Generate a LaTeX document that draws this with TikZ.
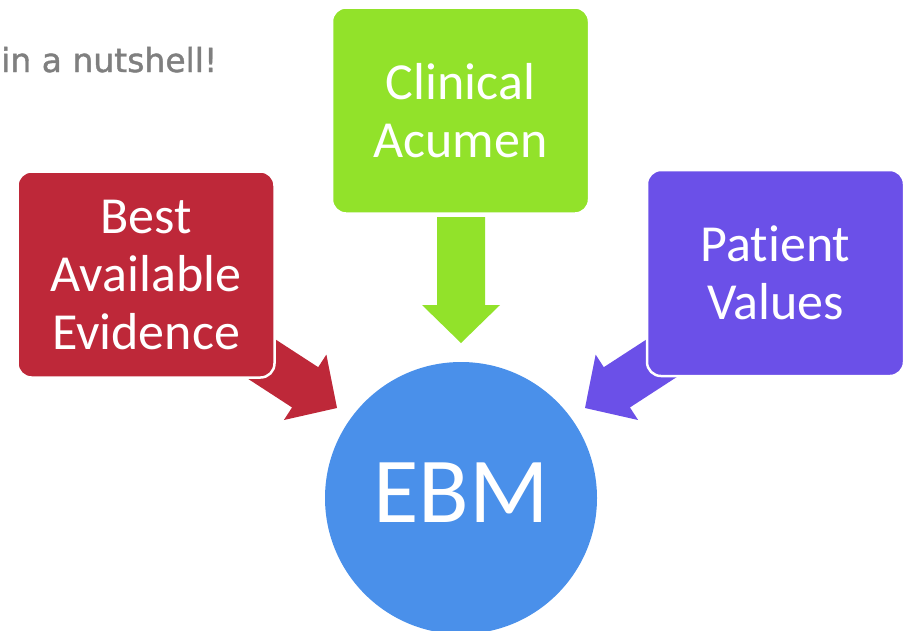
\documentclass[tikz,border=0pt]{standalone}
\usepackage{fontspec}
\setmainfont[Ligatures={NoCommon,NoDiscretionary,NoRare}]{Carlito}
\newfontfamily\hdrfont[FakeBold=1.3]{DejaVu Sans}
\definecolor{ebmred}{HTML}{BE2839}
\definecolor{ebmgreen}{HTML}{92E22A}
\definecolor{ebmpurple}{HTML}{6B50E8}
\definecolor{ebmblue}{HTML}{4A90EA}
\definecolor{hdrgray}{HTML}{7F7F7F}
\begin{document}
\begin{tikzpicture}[x=1pt,y=-1pt,
  box/.style={draw=white, line width=2.5pt, rounded corners=14pt,
    minimum width=257pt, minimum height=206pt, text=white, align=center,
    font=\fontsize{52}{58}\selectfont, inner sep=0pt}]
\useasboundingbox (0,0) rectangle (907,630);
\clip (0,0) rectangle (907,630);
% title
\node[anchor=base west, inner sep=0pt, text=hdrgray, font=\hdrfont\fontsize{33}{40}\selectfont] (title) at (1,72) {in a nutshell!};
% block arrows (behind the boxes)
\fill[ebmgreen, shift={(461,343)}, rotate=-90]
  (0,0) -- (-38,39) -- (-38,24) -- (-126,24) -- (-126,-24) -- (-38,-24) -- (-38,-39) -- cycle;
\fill[ebmred, shift={(337,408)}, rotate=-33]
  (0,0) -- (-38,39) -- (-38,24) -- (-130,24) -- (-130,-24) -- (-38,-24) -- (-38,-39) -- cycle;
\fill[ebmpurple, shift={(585,408)}, rotate=-147]
  (0,0) -- (-38,39) -- (-38,24) -- (-130,24) -- (-130,-24) -- (-38,-24) -- (-38,-39) -- cycle;
% boxes
\node[box, fill=ebmred] (evid) at (146,274.5) {Best\\Available\\Evidence};
\node[box, fill=ebmgreen] (clin) at (460.5,110.5) {Clinical\\Acumen};
\node[box, fill=ebmpurple] (pat) at (775.5,273) {Patient\\Values};
% EBM circle
\node[circle, fill=ebmblue, draw=none, minimum size=272pt, inner sep=0pt] (ebm) at (461,498) {};
\node[text=white, inner sep=0pt, font=\fontsize{93}{100}\selectfont, yshift=5pt] (ebmtext) at (ebm.center) {EBM};
\end{tikzpicture}
\end{document}
